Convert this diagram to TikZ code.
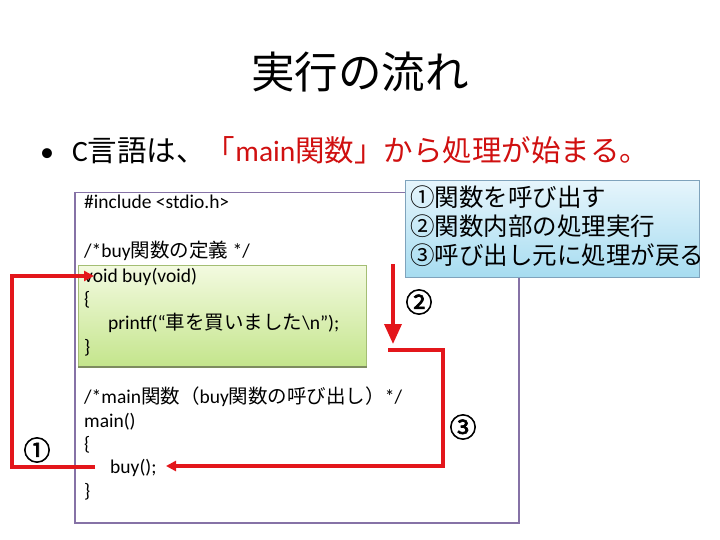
\documentclass[tikz,border=0pt]{standalone}
\usepackage{fontspec}
\setmainfont{Carlito}
\newfontfamily\cjk{Noto Sans CJK JP}
\newfontfamily\cjkheavy{Noto Sans CJK JP}[FakeBold=2.5]
\usetikzlibrary{arrows.meta}
\definecolor{ared}{HTML}{E3161B}
\definecolor{tred}{HTML}{D01010}
\definecolor{purp}{HTML}{8672A6}
\definecolor{gborder}{HTML}{A4BE74}
\definecolor{gshadow}{HTML}{7E8C60}
\definecolor{gtop}{HTML}{F3FAE0}
\definecolor{gbot}{HTML}{C4E58C}
\definecolor{btop}{HTML}{E6F5FC}
\definecolor{bbot}{HTML}{A6DCF0}
\definecolor{bborder}{HTML}{7FA3BC}
\tikzset{
  code/.style={anchor=base west, inner sep=0pt, font=\fontsize{19.5}{22}\selectfont},
  legend/.style={anchor=west, inner sep=0pt, font=\cjk\fontsize{24.5}{29}\selectfont},
  bignum/.style={inner sep=0pt, font=\cjkheavy\fontsize{27}{29}\selectfont},
  flow/.style={draw=ared, line width=3.5pt},
  smalltip/.style={-{Triangle[length=10pt,width=10pt]}},
  bigtip/.style={-{Triangle[length=20pt,width=17pt]}},
}
\begin{document}
\begin{tikzpicture}[x=1pt,y=-1pt]
\useasboundingbox (0,0) rectangle (720,540);
% title
\node[inner sep=0pt, font=\cjk\fontsize{43.5}{46}\selectfont] (title) at (360,72) {実行の流れ};
% bullet line
\node[anchor=base west, inner sep=0pt, font=\fontsize{28}{30}\selectfont] (bul) at (40,162) {•};
\node[anchor=base west, inner sep=0pt, font=\fontsize{29.5}{31}\selectfont] (lead) at (72,162)
  {C{\cjk 言語は、}\textcolor{tred}{{\cjk 「}main{\cjk 関数」から処理が始まる。}}};
% code box
\node[draw=purp, line width=1.5pt, anchor=north west, minimum width=444pt, minimum height=330pt, inner sep=0pt] (codebox) at (74,192) {};
% buy function box
\node[draw=gborder, line width=1pt, top color=gtop, bottom color=gbot, anchor=north west, minimum width=288pt, minimum height=101pt, inner sep=0pt] (buybox) at (78,265) {};
\draw[gshadow, line width=2pt] (buybox.south west) -- (buybox.south east);
% legend box
\node[draw=bborder, line width=1pt, top color=btop, bottom color=bbot, anchor=north west, minimum width=294pt, minimum height=97pt, inner sep=0pt] (legendbox) at (405,180) {};
\node[legend] (l1) at (410,197) {①関数を呼び出す};
\node[legend] (l2) at (410,226) {②関数内部の処理実行};
\node[legend] (l3) at (410,255) {③呼び出し元に処理が戻る};
% code
\node[code] (inc) at (84,209) {\#include <stdio.h>};
\node[code] (cm1) at (84,258) {/*buy{\cjk 関数の定義} */};
\node[code] (void) at (84,282) {void buy(void)};
\node[code] (ob1) at (84,305) {\{};
\node[code] (pf) at (108,329) {printf(“{\cjk 車を買いました}\textbackslash n”);};
\node[code] (cb1) at (84,353) {\}};
\node[code] (cm2) at (84,403) {/*main{\cjk 関数（}buy{\cjk 関数の呼び出し）}*/};
\node[code] (mn) at (84,427) {main()};
\node[code] (ob2) at (84,450) {\{};
\node[code] (call) at (110,473) {buy();};
\node[code] (cb2) at (84,497) {\}};
% numbers
\node[bignum] (n1) at (37,450) {①};
\node[bignum] (n2) at (419,302) {②};
\node[bignum] (n3) at (463,427) {③};
% flow 1: call
\coordinate (c1a) at (95,467);
\coordinate (c1b) at (12,467);
\coordinate (c1c) at (12,276);
\coordinate (c1d) at (94,276);
\draw[flow, smalltip] (c1a) -- (c1b) -- (c1c) -- (c1d);
% flow 2: execute
\coordinate (c2a) at (393,264);
\coordinate (c2b) at (393,344);
\draw[flow, bigtip] (c2a) -- (c2b);
% flow 3: return
\coordinate (c3a) at (388,350);
\coordinate (c3b) at (443,350);
\coordinate (c3c) at (443,466);
\coordinate (c3d) at (166,466);
\draw[flow, smalltip] (c3a) -- (c3b) -- (c3c) -- (c3d);
\end{tikzpicture}
\end{document}
